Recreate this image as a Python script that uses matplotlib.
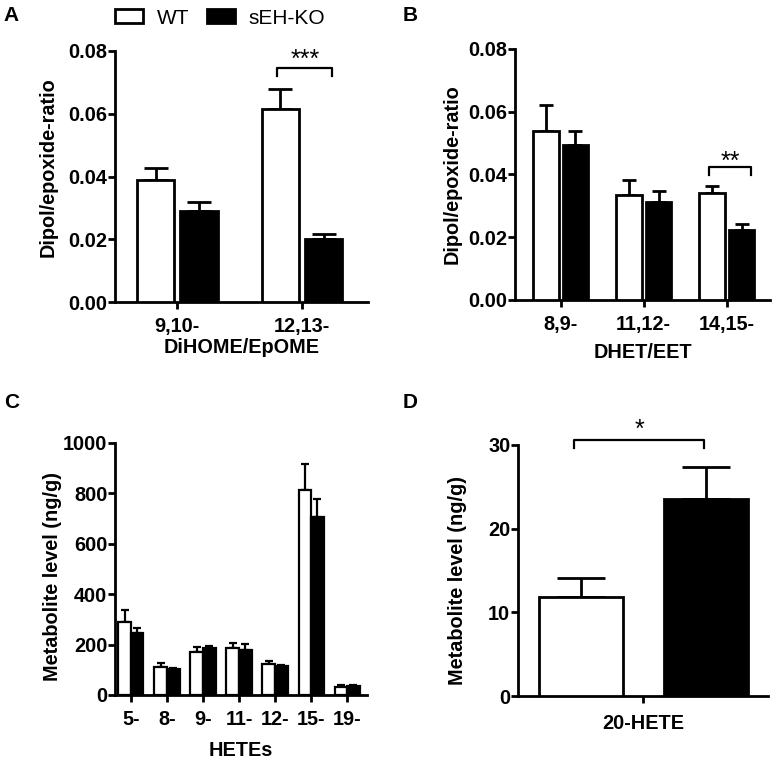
import matplotlib
matplotlib.use('Agg')
import matplotlib.pyplot as plt
import numpy as np
from matplotlib.patches import Patch
from matplotlib.ticker import FormatStrFormatter

plt.rcParams['font.family'] = ['Liberation Sans', 'DejaVu Sans']

# ---------------- data ----------------
groups = ['WT', 'sEH-KO']

# Panel A: DiHOME/EpOME
a_cats = ['9,10-', '12,13-']
a_wt = [0.0389, 0.0616]
a_wt_err = [0.0039, 0.0062]
a_ko = [0.0291, 0.0200]
a_ko_err = [0.0029, 0.0016]

# Panel B: DHET/EET
b_cats = ['8,9-', '11,12-', '14,15-']
b_wt = [0.0540, 0.0335, 0.0340]
b_wt_err = [0.0081, 0.0047, 0.0023]
b_ko = [0.0493, 0.0311, 0.0223]
b_ko_err = [0.0046, 0.0036, 0.0019]

# Panel C: HETEs
c_cats = ['5-', '8-', '9-', '11-', '12-', '15-', '19-']
c_wt = [289, 113, 172, 186, 123, 812, 33]
c_wt_err = [49, 13, 20, 22, 13, 106, 5]
c_ko = [248, 102, 186, 180, 116, 707, 35]
c_ko_err = [17, 6, 9, 22, 5, 72, 5]

# Panel D: 20-HETE
d_cats = ['20-HETE']
d_wt = [11.85]
d_wt_err = [2.25]
d_ko = [23.6]
d_ko_err = [3.8]

W, H = 774, 761
fig = plt.figure(figsize=(W / 100, H / 100), dpi=100)

FS = 14.3


def panel(rect, cats, wt, wt_err, ko, ko_err, off, width, xlim, ylim, yticks,
          ylabel, xlabel, lw, capsize, fmt=None, ylab_xy=(-0.21, 0.5),
          xlab_y=None, tick_fs=FS):
    ax = fig.add_axes(rect)
    x = np.arange(len(cats))
    wt = np.array(wt, float)
    ko = np.array(ko, float)
    for vals, errs, xs, fc in ((wt, wt_err, x - off, 'white'), (ko, ko_err, x + off, 'black')):
        ax.bar(xs, vals, width=width, color=fc, edgecolor='black', linewidth=lw, zorder=3)
        ax.errorbar(xs, vals, yerr=[np.zeros(len(vals)), errs], fmt='none', ecolor='black',
                    elinewidth=lw, capsize=capsize, capthick=lw, zorder=2)
    ax.set_xlim(*xlim)
    ax.set_ylim(*ylim)
    ax.set_yticks(yticks)
    if fmt:
        ax.yaxis.set_major_formatter(FormatStrFormatter(fmt))
    ax.set_xticks(x)
    ax.set_xticklabels(cats)
    for s in ('top', 'right'):
        ax.spines[s].set_visible(False)
    for s in ('left', 'bottom'):
        ax.spines[s].set_linewidth(2.0)
    ax.tick_params(axis='y', direction='out', length=5, width=2.0, pad=0.5, labelsize=tick_fs)
    ax.tick_params(axis='x', direction='out', length=5, width=2.0, pad=5.5, labelsize=FS)
    for lab in ax.get_xticklabels() + ax.get_yticklabels():
        lab.set_fontweight('bold')
    ax.set_ylabel(ylabel, fontsize=FS, fontweight='bold')
    ax.yaxis.set_label_coords(*ylab_xy)
    if xlabel:
        ax.set_xlabel(xlabel, fontsize=FS, fontweight='bold')
        ax.xaxis.set_label_coords(0.5, xlab_y)
    return ax


def bracket(ax, x0, x1, ytop, ydrop, star, sx, sy, fs=18):
    ax.plot([x0, x0, x1, x1], [ydrop, ytop, ytop, ydrop], color='black', lw=1.6,
            clip_on=False, zorder=4)
    ax.text(sx, sy, star, ha='center', va='center', fontsize=fs, clip_on=False)


axA = panel([115 / W, 1 - 302 / H, 253 / W, 251 / H], a_cats, a_wt, a_wt_err, a_ko, a_ko_err,
            0.174, 0.30, (-0.5, 1.53), (0, 0.08), [0, 0.02, 0.04, 0.06, 0.08],
            'Dipol/epoxide-ratio', 'DiHOME/EpOME', 2.0, 8.6, fmt='%.2f',
            ylab_xy=(-0.225, 0.536), xlab_y=-0.142)
bracket(axA, 0.80, 1.24, 0.0746, 0.0720, '***', 1.03, 0.0773)

axB = panel([515 / W, 1 - 300 / H, 255 / W, 251 / H], b_cats, b_wt, b_wt_err, b_ko, b_ko_err,
            0.178, 0.31, (-0.55, 2.52), (0, 0.08), [0, 0.02, 0.04, 0.06, 0.08],
            'Dipol/epoxide-ratio', 'DHET/EET', 2.0, 5.0, fmt='%.2f',
            ylab_xy=(-0.208, 0.5), xlab_y=-0.171)
bracket(axB, 1.783, 2.289, 0.0425, 0.0398, '**', 2.04, 0.0441)

axC = panel([115 / W, 1 - 695 / H, 252 / W, 252 / H], c_cats, c_wt, c_wt_err, c_ko, c_ko_err,
            0.175, 0.35, (-0.44, 6.55), (0, 1000), [0, 200, 400, 600, 800, 1000],
            'Metabolite level (ng/g)', 'HETEs', 1.6, 2.6,
            ylab_xy=(-0.21, 0.47), xlab_y=-0.183)

axD = panel([518 / W, 1 - 696 / H, 250 / W, 251 / H], d_cats, d_wt, d_wt_err, d_ko, d_ko_err,
            0.25, 0.336, (-0.5, 0.5), (0, 30), [0, 10, 20, 30],
            'Metabolite level (ng/g)', None, 2.0, 17,
            ylab_xy=(-0.204, 0.4615))
axD.tick_params(axis='x', pad=8)
bracket(axD, -0.276, 0.244, 30.6, 29.7, '*', -0.016, 31.8)

# panel letters
for lbl, (px, py) in zip('ABCD', [(3, 6), (403, 6), (4, 393), (403, 393)]):
    fig.text(px / W, 1 - py / H, lbl, ha='left', va='top', fontsize=15, fontweight='bold')

# legend
handles = [Patch(facecolor='white', edgecolor='black', linewidth=2.0),
           Patch(facecolor='black', edgecolor='black', linewidth=2.0)]
fig.legend(handles, groups, loc='center left', bbox_to_anchor=(115 / W, 1 - 18 / H),
           ncol=2, frameon=False, fontsize=15, handlelength=1.33, handleheight=0.67,
           handletextpad=0.67, columnspacing=0.86, borderpad=0, borderaxespad=0)

fig.savefig('out.png', dpi=100)
